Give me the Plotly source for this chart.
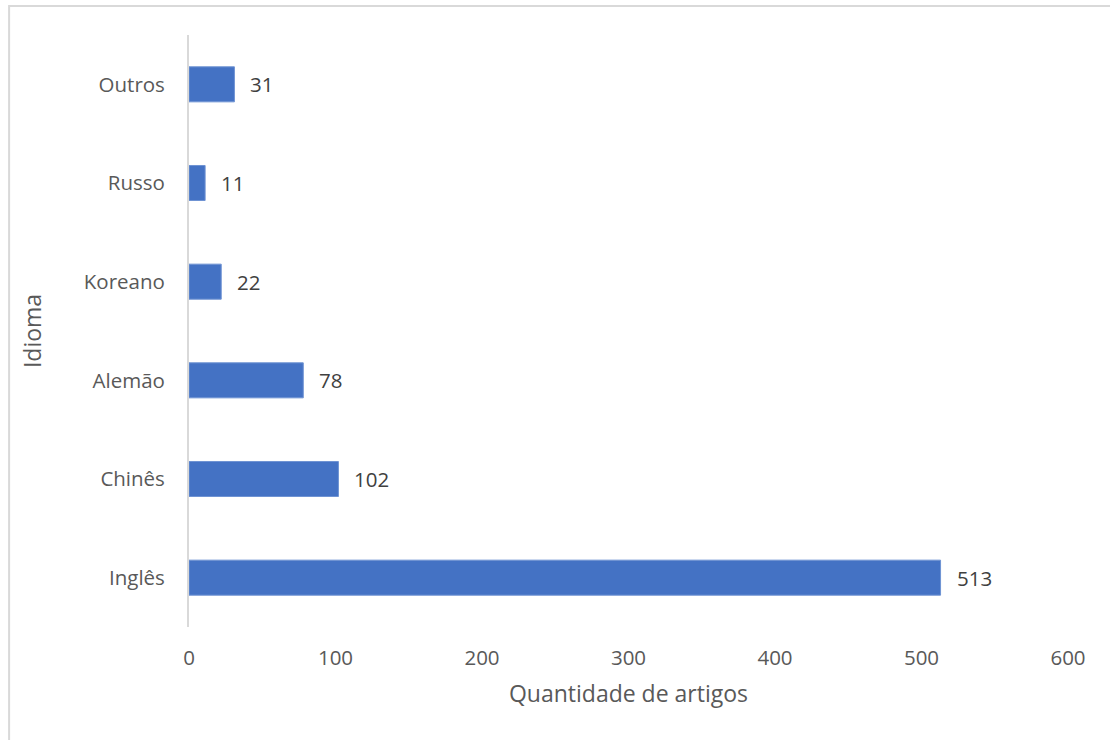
import plotly.graph_objects as go

categories = ["Inglês", "Chinês", "Alemão", "Koreano", "Russo", "Outros"]
values = [513, 102, 78, 22, 11, 31]
x_ticks = [0, 100, 200, 300, 400, 500, 600]

W, H = 1110, 740
L, R, T, B = 189, 41.5, 35, 113
pw = W - L - R
ph = H - T - B

fig = go.Figure()
fig.add_trace(go.Bar(
    y=categories, x=values, orientation="h",
    marker=dict(color="#4472C4", line=dict(color="#6f93d3", width=1)),
    hoverinfo="x+y",
))

for c, v in zip(categories, values):
    fig.add_annotation(x=v, y=c, text=str(v), showarrow=False, xanchor="left",
                       xshift=14, font=dict(family="Open Sans", size=20.5, color="#404040"))

# chart border (Excel chart area)
fig.add_shape(type="rect", xref="paper", yref="paper",
              x0=(9 - L) / pw, x1=(W + 10 - L) / pw,
              y0=-(H + 10 - T - ph) / ph, y1=(ph + T - 6) / ph,
              line=dict(color="#d9d9d9", width=2), fillcolor="rgba(0,0,0,0)", layer="below")

fig.update_layout(
    width=W, height=H,
    margin=dict(l=L, r=R, t=T, b=B),
    paper_bgcolor="white", plot_bgcolor="white",
    bargap=0.645,
    showlegend=False,
    font=dict(family="Open Sans", size=20.5, color="#595959"),
    xaxis=dict(range=[0, 600], tickvals=x_ticks, showgrid=False, zeroline=False,
               showline=False, ticks="", ticklabelstandoff=16,
               title=dict(text="Quantidade de artigos", standoff=16,
                          font=dict(size=23, color="#595959")),
               tickfont=dict(size=20.5, color="#595959")),
    yaxis=dict(showgrid=False, zeroline=False, showline=True, linecolor="#d9d9d9",
               linewidth=2, ticks="", ticklabelstandoff=18,
               title=dict(text="Idioma", standoff=36,
                          font=dict(size=23, color="#595959")),
               tickfont=dict(size=20.5, color="#595959")),
)

fig.write_html("out.html")
